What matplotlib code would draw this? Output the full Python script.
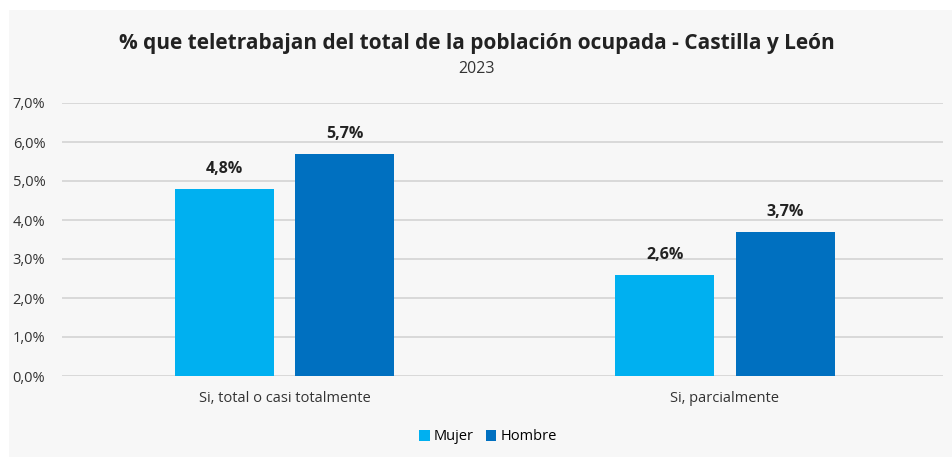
import matplotlib.pyplot as plt
import numpy as np
from matplotlib.patches import Rectangle
from matplotlib.ticker import FuncFormatter

categories = ["Si, total o casi totalmente", "Si, parcialmente"]
series_names = ["Mujer", "Hombre"]
mujer = [4.8, 2.6]
hombre = [5.7, 3.7]
y_ticks = [0, 1, 2, 3, 4, 5, 6, 7]

colors = ["#00B0F0", "#0070C0"]
plt.rcParams['font.family'] = ['Open Sans', 'DejaVu Sans']

fig = plt.figure(figsize=(9.53, 4.57), dpi=100)
fig.patch.set_facecolor("white")
# light gray panel behind the chart
fig.patches.append(Rectangle((9 / 953, 0), 1, 1 - 10 / 457, transform=fig.transFigure,
                             facecolor="#f7f7f7", edgecolor="none", zorder=-1))

ax = fig.add_axes([62 / 953, 1 - 376 / 457, (943 - 62) / 953, (376 - 103) / 457])
ax.set_facecolor("none")

x = np.arange(len(categories))
w = 0.225
gap = 0.048
offs = (w + gap) / 2
bars1 = ax.bar(x - offs, mujer, w, color=colors[0], label=series_names[0], zorder=3)
bars2 = ax.bar(x + offs, hombre, w, color=colors[1], label=series_names[1], zorder=3)

for bars, vals in [(bars1, mujer), (bars2, hombre)]:
    for b, v in zip(bars, vals):
        ax.text(b.get_x() + b.get_width() / 2, v + 0.3, f"{v:.1f}%".replace(".", ","),
                ha="center", va="bottom", fontsize=11.5, fontweight="bold", color="#222222")

ax.set_xlim(-0.505, 1.495)
ax.set_ylim(0, 7)
ax.set_yticks(y_ticks)
ax.yaxis.set_major_formatter(FuncFormatter(lambda v, p: f"{v:.1f}%".replace(".", ",")))
ax.set_xticks(x)
ax.set_xticklabels(categories)
ax.tick_params(axis="both", length=0, labelsize=10.5, colors="#333333")
ax.tick_params(axis="y", pad=12)
ax.tick_params(axis="x", pad=11)
ax.grid(axis="y", color="#d9d9d9", linewidth=1.4, zorder=0)
ax.set_axisbelow(True)
for s in ax.spines.values():
    s.set_visible(False)

fig.text(0.5, 1 - 43 / 457, "% que teletrabajan del total de la población ocupada - Castilla y León",
         ha="center", va="center", fontsize=15, fontweight="bold", color="#222222")
fig.text(0.5, 1 - 69 / 457, "2023", ha="center", va="center", fontsize=11.5, color="#333333")

fig.legend(loc="center", bbox_to_anchor=(488 / 953, 1 - 437 / 457), ncol=2, frameon=False,
           fontsize=10.5, handlelength=0.7, handleheight=0.7, handletextpad=0.3,
           columnspacing=0.8)

fig.savefig("out.png", dpi=100, facecolor=fig.get_facecolor())
